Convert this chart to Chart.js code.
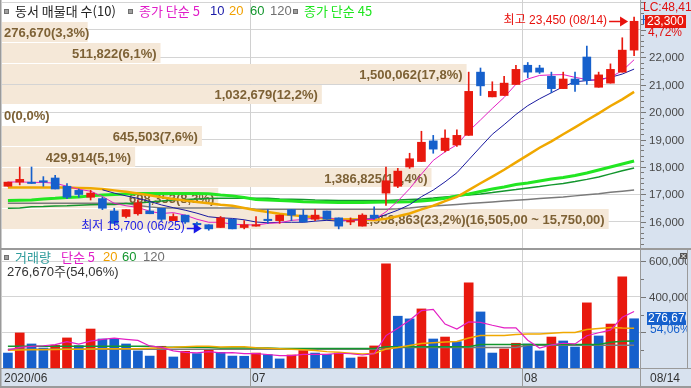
<!DOCTYPE html>
<html>
<head>
<meta charset="utf-8">
<script src="https://cdn.jsdelivr.net/npm/chart.js@4.4.1/dist/chart.umd.min.js"></script>
<style>
  html, body { margin: 0; padding: 0; background: #fff; }
  #wrap { position: relative; width: 691px; height: 388px; overflow: hidden; }
  canvas { position: absolute; left: 0; }
  #price { top: 0; }
  #volume { top: 250px; }
</style>
</head>
<body>
<div id="wrap">
  <canvas id="price" width="691" height="250"></canvas>
  <canvas id="volume" width="691" height="138"></canvas>
</div>
<script>
// 일봉 (2020/06/02 ~ 2020/08/14)
const dates = ['06/02','06/03','06/04','06/05','06/08','06/09','06/10','06/11','06/12','06/15',
  '06/16','06/17','06/18','06/19','06/22','06/23','06/24','06/25','06/26','06/29','06/30',
  '07/01','07/02','07/03','07/06','07/07','07/08','07/09','07/10','07/13','07/14','07/15',
  '07/16','07/17','07/20','07/21','07/22','07/23','07/24','07/27','07/28','07/29','07/30','07/31',
  '08/03','08/04','08/05','08/06','08/07','08/10','08/11','08/12','08/13','08/14'];

const opens  = [17300,17450,17450,17500,17600,17300,17150,16900,16850,16400,16200,16300,16400,16500,16050,16250,15950,15900,15800,16100,15800,
  15850,16100,16050,16450,16250,16100,16400,16150,16000,15850,16250,17050,17300,18000,18200,18950,18600,18800,19150,21450,20550,20600,21000,
  21700,21600,21300,20850,21200,22000,20900,21050,21450,22250];
const highs  = [17450,18000,18000,17650,17700,17400,17200,17150,16900,16500,16450,16800,16700,16500,16300,16250,16000,15900,16200,16100,16050,
  16200,16450,16250,16450,16450,16450,16400,16150,16150,16300,16550,18000,17950,18500,19300,19150,19350,19350,21450,21600,21100,21300,21700,
  21800,21700,21450,21450,21450,22400,21450,21750,22700,23450];
const lows   = [17300,17350,17400,17300,17200,16850,16900,16800,16450,15950,16150,16250,16300,16050,16050,15950,15850,15700,15800,15750,15750,
  15850,15950,15950,16050,16000,16050,16100,15750,15900,15850,16100,16600,17250,17950,18200,18500,18550,18750,19150,20600,20550,20600,21000,
  21250,21400,20700,20850,20750,21000,20900,21050,21450,22050];
const closes = [17450,17550,17400,17450,17200,16900,17000,17050,16500,15950,16450,16700,16300,16100,16200,16000,15900,15750,16150,15750,15900,
  15900,16050,16250,16250,16000,16250,16100,15850,16050,16250,16150,17500,17850,18300,18900,18650,19050,19150,20750,20950,20750,21050,21550,
  21450,21450,20850,21200,21000,21150,21350,21550,22250,23300];

// 종가 단순 이동평균
const ma5   = [17450,17460,17440,17440,17410,17300,17190,17120,16930,16680,16590,16530,16390,16310,16340,16250,16100,15990,15990,15920,15900,
  15890,15950,15970,16060,16090,16150,16160,16080,16050,16090,16090,16370,16760,17210,17740,18240,18550,18810,19300,19710,20130,20530,21010,
  21200,21330,21350,21360,21260,21180,21150,21270,21500,21900];
const ma10  = [null,null,null,null,null,null,null,null,17170,17050,16950,16860,16750,16620,16520,16430,16320,16190,16150,16130,16080,
  16000,15970,15990,15990,15990,16030,16060,16030,16060,16100,16120,16270,16430,16630,16920,17160,17460,17790,18260,18730,19190,19540,19910,
  20230,20480,20700,20920,21100,21140,21180,21260,21380,21560];
const ma20  = [17250,17250,17250,17250,17250,17250,17240,17230,17200,17150,17100,17040,16970,16900,16840,16780,16730,16680,16630,16590,16510,
  16430,16360,16300,16250,16210,16170,16120,16090,16100,16090,16060,16120,16210,16310,16460,16590,16760,16910,17160,17410,17650,17900,18170,
  18430,18700,18930,19190,19440,19700,19950,20220,20460,20730];
const ma45  = [16780,16790,16800,16840,16860,16890,16910,16950,16980,17000,17020,17040,17040,17040,17040,17040,17040,17030,16980,16950,16890,
  16820,16800,16780,16760,16740,16730,16720,16710,16710,16710,16720,16730,16730,16740,16760,16800,16860,16950,17020,17110,17200,17270,17360,
  17420,17490,17560,17620,17690,17780,17890,18000,18110,18220];
const ma60  = [16500,16510,16550,16560,16580,16590,16610,16630,16640,16640,16670,16690,16730,16760,16800,16820,16840,16850,16860,16860,16860,
  16860,16860,16840,16830,16820,16800,16790,16780,16780,16780,16780,16780,16800,16820,16840,16870,16910,16950,16980,17020,17070,17130,17180,
  17240,17290,17350,17400,17470,17550,17640,17750,17860,17960];
const ma120 = [16680,16680,16680,16680,16680,16680,16680,16680,16680,16680,16680,16600,16550,16510,16510,16510,16510,16510,16510,16510,16510,
  16460,16460,16460,16460,16460,16460,16460,16460,16460,16460,16460,16460,16480,16510,16550,16580,16610,16640,16670,16700,16730,16760,16790,
  16820,16850,16880,16910,16950,16990,17030,17080,17120,17160];

// 거래량과 이동평균
const volumes = [84000,197000,135000,112000,128000,169000,126000,219000,163000,161000,135000,96000,67000,122000,62000,94000,81000,101000,
  88000,67000,66000,84000,75000,51000,73000,98000,84000,77000,84000,56000,62000,124000,585000,291000,276000,332000,163000,174000,148000,
  478000,315000,84000,107000,139000,135000,96000,174000,152000,118000,366000,180000,247000,511800,276670];
const volMa5   = [100000,116000,122000,125000,131000,148000,134000,151000,161000,168000,161000,155000,124000,116000,96000,88000,85000,92000,
  85000,86000,81000,81000,76000,69000,70000,76000,76000,77000,83000,80000,73000,81000,182000,224000,268000,322000,329000,247000,219000,
  259000,256000,240000,226000,225000,156000,112000,130000,139000,135000,181000,198000,213000,285000,317000];
const volMa20  = [100000,101000,102000,103000,104000,105000,106000,107000,108000,108000,108000,108000,111000,114000,116000,120000,122000,
  122000,118000,120000,120000,114000,111000,108000,105000,102000,99000,92000,88000,83000,79000,81000,107000,115000,126000,138000,142000,
  146000,149000,169000,182000,182000,183000,188000,191000,191000,195000,199000,200000,216000,222000,228000,225000,224000];
const volMa60  = [122000,122000,122000,122000,122000,122000,122000,122000,122000,122000,122000,122000,122000,116000,116000,116000,116000,
  116000,112000,112000,112000,112000,112000,110000,110000,110000,110000,110000,110000,110000,110000,110000,119000,119000,119000,119000,
  119000,119000,119000,119000,132000,132000,132000,132000,132000,132000,132000,132000,132000,132000,132000,145000,150000,152000];
const volMa120 = [105000,105000,105000,105000,105000,105000,105000,105000,105000,105000,105000,105000,105000,105000,105000,105000,105000,
  105000,105000,105000,105000,105000,105000,105000,105000,105000,105000,105000,105000,105000,105000,105000,105000,115000,115000,115000,
  115000,115000,115000,115000,115000,115000,115000,115000,128000,128000,128000,128000,128000,128000,128000,128000,128000,128000];

// 매물대 (아래 구간부터)
const profileVolumes = [1958863, 698353, 1386825, 429914, 645503, 0, 1032679, 1500062, 511822, 276670];
const profilePcts    = ['23,2', '8,3', '16,4', '5,1', '7,6', '0,0', '12,2', '17,8', '6,1', '3,3'];
const profileLow  = 15750;
const profileStep = 755;

const priceTicks  = [16000, 17000, 18000, 19000, 20000, 21000, 22000, 23000, 24000];
const priceLabels = [16000, 17000, 18000, 19000, 20000, 21000, 22000];
const volTicks    = [200000, 400000, 600000];
const volLabels   = [400000, 600000];
const monthStarts = [0, 21, 44];
const monthLabels = ['2020/06', '07', '08'];

const RED = '#e8190e', BLUE = '#1660cc';
const PANEL_BG = '#d8e2ef';
const LINE_GRAY = '#9a9a9a';
const FONT = '"Liberation Sans", "Noto Sans CJK KR", sans-serif';
const KFONT = '"Noto Sans CJK KR", "Liberation Sans", sans-serif';
const fmt = n => n.toLocaleString('en-US');

const candleColors = closes.map((c, i) => c >= opens[i] ? RED : BLUE);
const volColors = volumes.map((v, i) => i > 0 && v > volumes[i - 1] ? RED : BLUE);

function lineSet(label, data, color, width, order) {
    return {
        type: 'line', label, data, order,
        borderColor: color, borderWidth: width,
        pointRadius: 0, fill: false, tension: 0,
        xAxisID: 'x', yAxisID: 'y'
    };
}

function monthLines(chart, top, bottom, color) {
    const xs = chart.scales.x, ctx = chart.ctx;
    const half = (xs.getPixelForValue(1) - xs.getPixelForValue(0)) / 2;
    ctx.save();
    ctx.strokeStyle = color;
    ctx.lineWidth = 1;
    monthStarts.slice(1).forEach(i => {
        const px = Math.round(xs.getPixelForValue(i) - half) + 0.5;
        ctx.beginPath(); ctx.moveTo(px, top); ctx.lineTo(px, bottom); ctx.stroke();
    });
    ctx.restore();
}

function hline(ctx, x0, x1, y, color, w) {
    ctx.strokeStyle = color; ctx.lineWidth = w || 1;
    ctx.beginPath(); ctx.moveTo(x0, y); ctx.lineTo(x1, y); ctx.stroke();
}
function vline(ctx, x, y0, y1, color, w) {
    ctx.strokeStyle = color; ctx.lineWidth = w || 1;
    ctx.beginPath(); ctx.moveTo(x, y0); ctx.lineTo(x, y1); ctx.stroke();
}

function arrow(ctx, x0, x1, y, color) {
    ctx.strokeStyle = color; ctx.fillStyle = color; ctx.lineWidth = 1.5;
    ctx.beginPath(); ctx.moveTo(x0, y); ctx.lineTo(x1 - 6, y); ctx.stroke();
    ctx.beginPath(); ctx.moveTo(x1, y); ctx.lineTo(x1 - 8, y - 5); ctx.lineTo(x1 - 8, y + 5); ctx.closePath(); ctx.fill();
}

function legendSquare(ctx, x, y) {
    ctx.fillStyle = '#a0a0a0'; ctx.fillRect(x, y, 5, 5);
    ctx.strokeStyle = '#707070'; ctx.lineWidth = 1; ctx.strokeRect(x + 0.5, y + 0.5, 4, 4);
}

function rightTicks(ctx, scale, from, to, step, majorStep, x) {
    ctx.strokeStyle = '#777'; ctx.lineWidth = 1;
    for (let v = from; v <= to; v += step) {
        const y = Math.round(scale.getPixelForValue(v)) + 0.5;
        if (y < scale.top - 1 || y > scale.bottom + 1) continue;
        const len = v % majorStep === 0 ? 5 : 3;
        ctx.beginPath(); ctx.moveTo(x, y); ctx.lineTo(x + len, y); ctx.stroke();
    }
}

function rightLabels(ctx, scale, values) {
    ctx.font = '11.5px "Liberation Sans", sans-serif';
    ctx.fillStyle = '#474747';
    ctx.textAlign = 'left';
    ctx.textBaseline = 'middle';
    values.forEach(v => ctx.fillText(fmt(v), 649, Math.round(scale.getPixelForValue(v)) + 0.5));
}

// 가격 차트 장식
const pricePlugin = {
    id: 'pricePlugin',
    beforeDraw(chart) {
        const ctx = chart.ctx;
        ctx.save();
        ctx.fillStyle = '#fff'; ctx.fillRect(0, 0, 691, 250);
        ctx.fillStyle = PANEL_BG; ctx.fillRect(641, 0, 50, 250);
        ctx.restore();
    },
    beforeDatasetsDraw(chart) {
        const ctx = chart.ctx, ys = chart.scales.y, vp = chart.scales.vp;
        monthLines(chart, 0, 249, '#d0d0d0');
        ctx.save();
        const maxIdx = profileVolumes.indexOf(Math.max(...profileVolumes));
        ctx.font = 'bold 13px "Liberation Sans", sans-serif';
        ctx.textBaseline = 'middle';
        profileVolumes.forEach((v, k) => {
            const lo = profileLow + k * profileStep, hi = lo + profileStep;
            const yTop = ys.getPixelForValue(hi), yBot = ys.getPixelForValue(lo);
            const x0 = vp.getPixelForValue(0), x1 = vp.getPixelForValue(v);
            ctx.fillStyle = '#f5e8d8';
            if (v > 0) ctx.fillRect(x0, Math.round(yTop) + 1, x1 - x0, Math.round(yBot) - Math.round(yTop) - 1);
            let txt = fmt(v) + '(' + profilePcts[k] + '%)';
            if (k === maxIdx) txt += '(' + fmt(hi) + ',00 ~ ' + fmt(lo) + ',00)';
            const w = ctx.measureText(txt).width;
            const tx = Math.max(4, x1 - 4 - w);
            ctx.fillStyle = '#7d6135';
            ctx.textAlign = 'left';
            ctx.fillText(txt, tx, (yTop + yBot) / 2 + 2);
        });
        ctx.restore();
    },
    afterDatasetsDraw(chart) {
        const ctx = chart.ctx, xs = chart.scales.x, ys = chart.scales.y;
        const hiIdx = highs.indexOf(Math.max(...highs));
        const loIdx = lows.indexOf(Math.min(...lows));
        ctx.save();
        ctx.font = '12px ' + FONT;
        ctx.textBaseline = 'middle';
        ctx.textAlign = 'right';
        let tip = xs.getPixelForValue(hiIdx) - 6;
        let yy = Math.round(ys.getPixelForValue(highs[hiIdx])) + 4.5;
        arrow(ctx, tip - 19, tip, yy, '#e8120e');
        ctx.fillStyle = '#e8120e';
        ctx.fillText('최고 ' + fmt(highs[hiIdx]) + ' (' + dates[hiIdx] + ')', tip - 21, yy - 1);
        tip = xs.getPixelForValue(loIdx) - 7;
        yy = Math.round(ys.getPixelForValue(lows[loIdx])) - 1.5;
        arrow(ctx, tip - 15, tip, yy, '#1a1ae6');
        ctx.fillStyle = '#1a1ae6';
        ctx.fillText('최저 ' + fmt(lows[loIdx]) + ' (' + dates[loIdx] + ')', tip - 17, yy - 1.5);
        ctx.restore();
    },
    afterDraw(chart) {
        const ctx = chart.ctx, ys = chart.scales.y;
        ctx.save();
        vline(ctx, 640.5, 0, 250, LINE_GRAY);
        vline(ctx, 0.5, 0, 250, LINE_GRAY, 2);
        rightTicks(ctx, ys, 15200, 24000, 200, 1000, 641);
        rightLabels(ctx, ys, priceLabels);
        hline(ctx, 0, 691, 249, LINE_GRAY, 2);

        // 범례
        ctx.textBaseline = 'middle';
        ctx.textAlign = 'left';
        ctx.font = '13px ' + KFONT;
        legendSquare(ctx, 4, 9);
        ctx.fillStyle = '#222'; ctx.fillText('동서 매물대 수(10)', 15, 11);
        legendSquare(ctx, 128, 9);
        ctx.fillStyle = '#e01ec8'; ctx.fillText('종가 단순 5', 139, 11);
        ctx.font = '13px ' + FONT;
        ctx.fillStyle = '#1a1aa8'; ctx.fillText('10', 210, 11);
        ctx.fillStyle = '#f0a000'; ctx.fillText('20', 229, 11);
        ctx.fillStyle = '#14962e'; ctx.fillText('60', 250, 11);
        ctx.fillStyle = '#707070'; ctx.fillText('120', 270, 11);
        legendSquare(ctx, 293, 9);
        ctx.font = '13px ' + KFONT;
        ctx.fillStyle = '#1ee61e'; ctx.fillText('종가 단순 45', 304, 11);

        // 오른쪽 현재가 표시
        const last = closes.length - 1;
        const yc = Math.round(ys.getPixelForValue(closes[last]));
        ctx.font = '12px ' + FONT;
        ctx.fillStyle = '#e01010'; ctx.fillText('LC:48,41', 643, 8);
        ctx.fillStyle = BLUE; ctx.fillText('H', 642, yc);
        ctx.fillStyle = RED; ctx.fillRect(645, yc - 6, 41, 13);
        ctx.save();
        ctx.beginPath(); ctx.rect(645, yc - 6, 41, 13); ctx.clip();
        ctx.fillStyle = '#fff'; ctx.fillText(fmt(closes[last]), 647, yc + 0.5);
        ctx.restore();
        const chg = (closes[last] / closes[last - 1] - 1) * 100;
        ctx.fillStyle = '#e01010';
        ctx.fillText(chg.toFixed(2).replace('.', ',') + '%', 648, yc + 12);
        ctx.restore();
    }
};

new Chart(document.getElementById('price'), {
    type: 'bar',
    data: {
        labels: dates,
        datasets: [
            { label: 'body', data: opens.map((o, i) => [o, closes[i]]), backgroundColor: candleColors,
              barThickness: 8, grouped: false, order: 0, xAxisID: 'x', yAxisID: 'y' },
            { label: 'wick', data: lows.map((l, i) => [l, highs[i]]), backgroundColor: candleColors,
              barThickness: 1, grouped: false, order: 1, xAxisID: 'x', yAxisID: 'y' },
            lineSet('MA5', ma5, '#e31fc4', 1, 2),
            lineSet('MA10', ma10, '#1a1aa0', 1, 3),
            lineSet('MA20', ma20, '#f0a800', 2.5, 4),
            lineSet('MA45', ma45, '#22e622', 3, 5),
            lineSet('MA60', ma60, '#14962e', 1.5, 6),
            lineSet('MA120', ma120, '#7a7a7a', 1.5, 7)
        ]
    },
    options: {
        responsive: false,
        animation: false,
        layout: { padding: { left: 2, right: 0, top: 0, bottom: 1 } },
        plugins: { legend: { display: false }, tooltip: { enabled: false } },
        scales: {
            x: { display: false },
            y: {
                position: 'right',
                min: 15018,
                max: 24073,
                afterBuildTicks: s => { s.ticks = priceTicks.map(v => ({ value: v })); },
                afterFit: s => { s.width = 51; },
                border: { display: false },
                grid: { color: '#d4d4d4', drawTicks: false },
                ticks: { display: false }
            },
            // 매물대 막대 길이용 숨은 축
            vp: { type: 'linear', axis: 'x', display: false, ticks: { display: false }, offset: false,
                  min: 0, max: 2060000 }
        }
    },
    plugins: [pricePlugin]
});

// 거래량 차트 장식
const volumePlugin = {
    id: 'volumePlugin',
    beforeDraw(chart) {
        const ctx = chart.ctx;
        ctx.save();
        ctx.fillStyle = '#fff'; ctx.fillRect(0, 0, 691, 138);
        ctx.fillStyle = PANEL_BG;
        ctx.fillRect(641, 0, 50, 138);
        ctx.fillRect(0, 118, 691, 20);
        ctx.restore();
    },
    beforeDatasetsDraw(chart) {
        monthLines(chart, 0, 118, '#d0d0d0');
    },
    afterDraw(chart) {
        const ctx = chart.ctx, ys = chart.scales.y, xs = chart.scales.x;
        ctx.save();
        rightTicks(ctx, ys, 0, 600000, 100000, 200000, 641);
        rightLabels(ctx, ys, volLabels);
        // 오른쪽 잘림 영역
        ctx.fillStyle = PANEL_BG; ctx.fillRect(688, 0, 3, 118);
        vline(ctx, 687.5, 0, 118, LINE_GRAY);
        vline(ctx, 640.5, 0, 138, LINE_GRAY);
        vline(ctx, 0.5, 0, 138, LINE_GRAY, 2);
        hline(ctx, 0, 691, 118.5, LINE_GRAY);
        hline(ctx, 0, 691, 137, LINE_GRAY, 2);
        monthLines(chart, 118, 138, LINE_GRAY);

        // 날짜 축
        const half = (xs.getPixelForValue(1) - xs.getPixelForValue(0)) / 2;
        ctx.font = '12px ' + FONT;
        ctx.textBaseline = 'middle';
        ctx.textAlign = 'left';
        ctx.fillStyle = '#333';
        monthStarts.forEach((idx, k) => {
            const px = Math.round(xs.getPixelForValue(idx) - half) + 2;
            ctx.fillText(monthLabels[k], px, 128.5);
        });
        ctx.fillText(dates[dates.length - 1], 650, 128.5);

        // 범례
        ctx.font = '13px ' + KFONT;
        legendSquare(ctx, 4, 5);
        ctx.fillStyle = '#2f9c9c'; ctx.fillText('거래량', 15, 7.5);
        ctx.fillStyle = '#e01ec8'; ctx.fillText('단순 5', 61, 7.5);
        ctx.font = '13px ' + FONT;
        ctx.fillStyle = '#f0a000'; ctx.fillText('20', 103, 7.5);
        ctx.fillStyle = '#14962e'; ctx.fillText('60', 122, 7.5);
        ctx.fillStyle = '#707070'; ctx.fillText('120', 143, 7.5);
        const last = volumes.length - 1;
        const ratio = (volumes[last] / volumes[last - 1] * 100).toFixed(2).replace('.', ',');
        ctx.font = '13px ' + FONT;
        ctx.fillStyle = '#333';
        ctx.fillText(fmt(volumes[last]) + '주(' + ratio + '%)', 7, 22);

        // 현재 거래량 표시
        const yv = Math.round(ys.getPixelForValue(volumes[last])) - 1;
        ctx.fillStyle = BLUE; ctx.fillRect(647, yv - 6, 39, 13);
        ctx.save();
        ctx.beginPath(); ctx.rect(647, yv - 6, 39, 13); ctx.clip();
        ctx.font = '12px ' + FONT;
        ctx.fillStyle = '#fff'; ctx.fillText(fmt(volumes[last]), 648, yv + 0.5);
        ctx.restore();
        ctx.save();
        ctx.beginPath(); ctx.rect(641, 0, 46, 118); ctx.clip();
        ctx.font = '12px ' + FONT;
        ctx.fillStyle = BLUE; ctx.fillText(ratio + '%', 650, yv + 12);
        ctx.restore();

        // 닫기 버튼
        ctx.fillStyle = '#555'; ctx.fillRect(680, 3, 7, 6);
        ctx.strokeStyle = '#fff'; ctx.lineWidth = 1;
        ctx.beginPath(); ctx.moveTo(681.5, 4); ctx.lineTo(685.5, 8); ctx.moveTo(685.5, 4); ctx.lineTo(681.5, 8); ctx.stroke();
        ctx.restore();
    }
};

new Chart(document.getElementById('volume'), {
    type: 'bar',
    data: {
        labels: dates,
        datasets: [
            { label: '거래량', data: volumes, backgroundColor: volColors, barThickness: 9, order: 5,
              xAxisID: 'x', yAxisID: 'y' },
            lineSet('단순 5', volMa5, '#e31fc4', 1.2, 1),
            lineSet('20', volMa20, '#f0a800', 1.5, 2),
            lineSet('60', volMa60, '#14962e', 1.5, 3),
            lineSet('120', volMa120, '#7a7a7a', 1.5, 4)
        ]
    },
    options: {
        responsive: false,
        animation: false,
        layout: { padding: { left: 2, right: 0, top: 0, bottom: 20 } },
        plugins: { legend: { display: false }, tooltip: { enabled: false } },
        scales: {
            x: { display: false },
            y: {
                position: 'right',
                min: 0,
                max: 663000,
                afterBuildTicks: s => { s.ticks = volTicks.map(v => ({ value: v })); },
                afterFit: s => { s.width = 51; },
                border: { display: false },
                grid: { color: '#d4d4d4', drawTicks: false },
                ticks: { display: false }
            }
        }
    },
    plugins: [volumePlugin]
});
</script>
</body>
</html>
